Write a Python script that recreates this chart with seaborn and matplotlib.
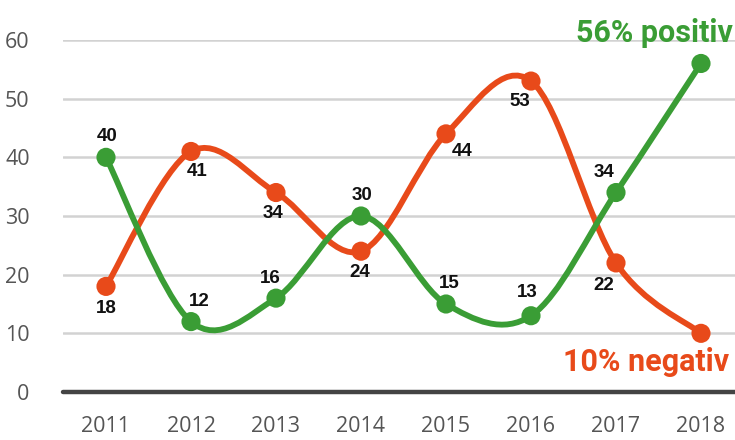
import numpy as np
import matplotlib
matplotlib.use("Agg")
import matplotlib.pyplot as plt
from matplotlib.path import Path
from matplotlib.patches import PathPatch
import seaborn as sns
import pandas as pd

years = [2011, 2012, 2013, 2014, 2015, 2016, 2017, 2018]
positiv = [40, 12, 16, 30, 15, 13, 34, 56]
negativ = [18, 41, 34, 24, 44, 53, 22, 10]
yticks = [0, 10, 20, 30, 40, 50, 60]

green = "#3a9d35"
red = "#e84a1a"

# label offsets in pixels (dx, dy) relative to each point
pos_off = [(1, 21), (8, 20), (-6, 20), (1, 21), (3, 20), (-4, 23), (-12, 20), None]
neg_off = [(0, -22), (6, -20), (-3, -21), (-1, -21), (16, -18), (-11, -20), (-12, -23), None]

sns.set_theme(style="white")
plt.rcParams['font.family'] = ['Liberation Sans', 'DejaVu Sans']

fig = plt.figure(figsize=(7.35, 4.4), dpi=100)
ax = fig.add_axes([63 / 735, (440 - 392) / 440, 1 - 63 / 735, (392 - 40) / 440])

x0 = 2011 - 43 / 85
x1 = 2018 + 34 / 85
ax.set_xlim(x0, x1)
ax.set_ylim(0, 60)


def smooth_path(xs, ys):
    pts = np.column_stack([xs, ys]).astype(float)
    n = len(pts)
    verts = [pts[0]]
    codes = [Path.MOVETO]
    for i in range(n - 1):
        p0 = pts[i - 1] if i > 0 else pts[i]
        p1 = pts[i]
        p2 = pts[i + 1]
        p3 = pts[i + 2] if i + 2 < n else pts[i + 1]
        c1 = p1 + (p2 - p0) / 6.0
        c2 = p2 - (p3 - p1) / 6.0
        verts += [c1, c2, p2]
        codes += [Path.CURVE4] * 3
    return Path(verts, codes)


for yv in yticks[1:]:
    ax.axhline(yv, color="#d2d2d2", lw=1.8, zorder=0)
ax.axhline(0, color="#444444", lw=3.2, zorder=1, clip_on=False)

df = pd.DataFrame({"year": years * 2,
                   "value": positiv + negativ,
                   "serie": ["positiv"] * len(years) + ["negativ"] * len(years)})

for vals, col in [(negativ, red), (positiv, green)]:
    patch = PathPatch(smooth_path(years, vals), facecolor="none", edgecolor=col,
                      lw=4.2, capstyle="round", joinstyle="round", zorder=3)
    ax.add_patch(patch)

sns.scatterplot(data=df, x="year", y="value", hue="serie",
                palette={"positiv": green, "negativ": red}, s=190,
                edgecolor="none", legend=False, ax=ax, zorder=4, clip_on=False)

for vals, offs in [(positiv, pos_off), (negativ, neg_off)]:
    for xv, yv, off in zip(years, vals, offs):
        if off is None:
            continue
        ax.annotate(str(yv), (xv, yv), xytext=off, textcoords="offset pixels",
                    ha="center", va="center", fontsize=13.5, fontweight="bold",
                    color="#111111", zorder=5)

ax.annotate("56% positiv", (1.0, 60), xycoords=("axes fraction", "data"),
            xytext=(-2, 7), textcoords="offset pixels", ha="right", va="center",
            fontsize=22, fontweight="bold", color=green, family=["Roboto", "DejaVu Sans"],
            annotation_clip=False)
ax.annotate("10% negativ", (1.0, 0), xycoords=("axes fraction", "data"),
            xytext=(-6, 30), textcoords="offset pixels", ha="right", va="center",
            fontsize=22, fontweight="bold", color=red, family=["Roboto", "DejaVu Sans"],
            annotation_clip=False)

ax.set_xticks(years)
ax.set_xticklabels([str(y) for y in years])
ax.set_yticks(yticks)
ax.set_yticklabels([str(v) for v in yticks])
ax.tick_params(axis="both", length=0, labelsize=15.5, colors="#555555",
               labelfontfamily="Open Sans")
ax.tick_params(axis="x", pad=17)
ax.tick_params(axis="y", pad=24)
ax.set_xlabel("")
ax.set_ylabel("")
for s in ax.spines.values():
    s.set_visible(False)

fig.savefig("out.png", dpi=100)
